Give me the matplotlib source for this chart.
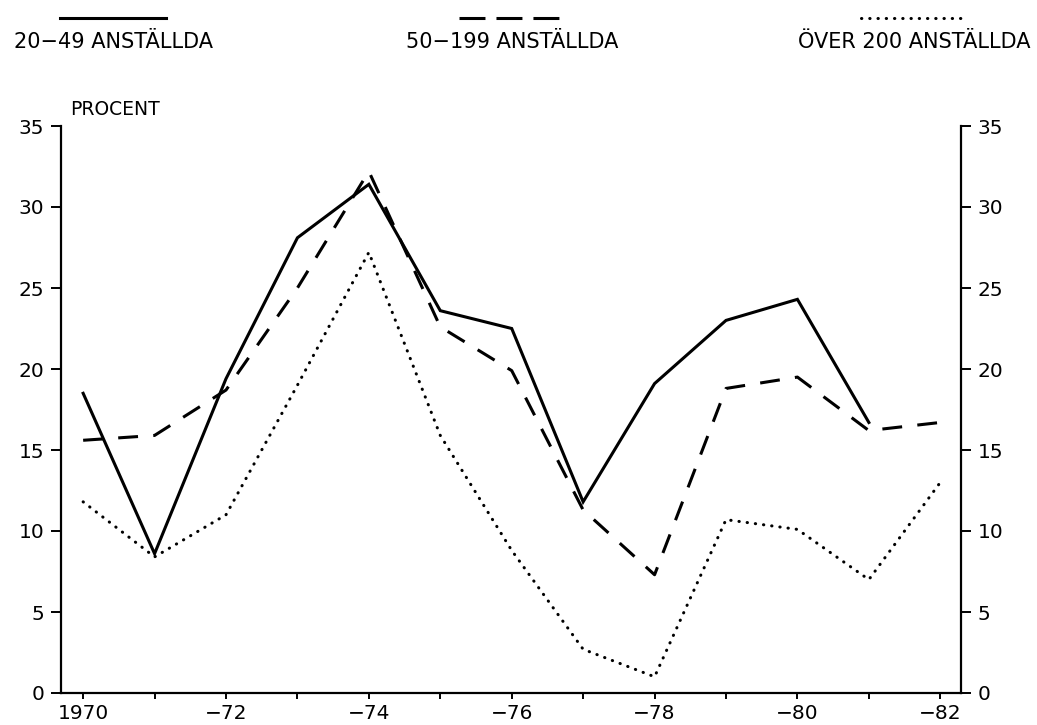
import numpy as np
import matplotlib
matplotlib.use("Agg")
import matplotlib.pyplot as plt
from matplotlib.lines import Line2D

plt.rcParams['font.family'] = ['DejaVu Sans']

years = list(range(1970, 1983))
tick_labels = ["1970", "", "\u221272", "", "\u221274", "", "\u221276", "", "\u221278", "", "\u221280", "", "\u221282"]

# andel i procent per storleksklass
small = [18.5, 8.6, 19.4, 28.1, 31.4, 23.6, 22.5, 11.8, 19.1, 23.0, 24.3, 16.7, np.nan]
medium = [15.6, 15.9, 18.7, 25.0, 32.2, 22.6, 19.9, 11.3, 7.3, 18.8, 19.5, 16.2, 16.7]
large = [11.8, 8.4, 11.0, 19.0, 27.2, 15.9, 8.8, 2.7, 1.0, 10.7, 10.1, 7.0, 13.0]
series_names = ["20\u221249 ANST\u00c4LLDA", "50\u2212199 ANST\u00c4LLDA", "\u00d6VER 200 ANST\u00c4LLDA"]

W, H = 1037, 725
fig = plt.figure(figsize=(W / 100, H / 100), dpi=100)
ax = fig.add_axes([61 / W, 1 - 693 / H, 900 / W, 567 / H])

lw = 2.2
solid_kw = dict(color='black', lw=lw, solid_joinstyle='miter')
dash_kw = dict(color='black', lw=lw, dashes=(6.5, 5), dash_capstyle='butt')
dot_kw = dict(color='black', lw=lw, dashes=(0.1, 2.6), dash_capstyle='round')

ax.plot(years, small, **solid_kw)
ax.plot(years, medium, **dash_kw)
ax.plot(years, large, **dot_kw)

ax.set_xlim(1969.69, 1982.29)
ax.set_ylim(0, 35)
ax.set_xticks(years)
ax.set_xticklabels(tick_labels)
ax.set_yticks(range(0, 36, 5))

for s in ['left', 'right', 'bottom']:
    ax.spines[s].set_linewidth(1.6)
ax.spines['top'].set_visible(False)

ax.tick_params(axis='y', which='both', direction='out', length=7, width=1.4,
               labelsize=14.5, pad=5, left=True, right=True, labelleft=True, labelright=True)
ax.tick_params(axis='x', direction='out', length=4, width=1.4, labelsize=14.5, pad=4)

ax.text(0.01, 1.012, "PROCENT", transform=ax.transAxes, ha='left', va='bottom', fontsize=13.5)

# legend: line sample above each label
legend_x = [113 / W, 512 / W, 914 / W]
legend_dash = dict(dash_kw, dashes=(8.5, 3.6))
styles = [solid_kw, legend_dash, dot_kw]
for cx, name, st in zip(legend_x, series_names, styles):
    fig.add_artist(Line2D([cx - 53 / W, cx + 53 / W], [1 - 18 / H, 1 - 18 / H],
                          transform=fig.transFigure, **st))
    fig.text(cx, 1 - 42 / H, name, ha='center', va='center', fontsize=15)

fig.savefig("out.png", dpi=100)
